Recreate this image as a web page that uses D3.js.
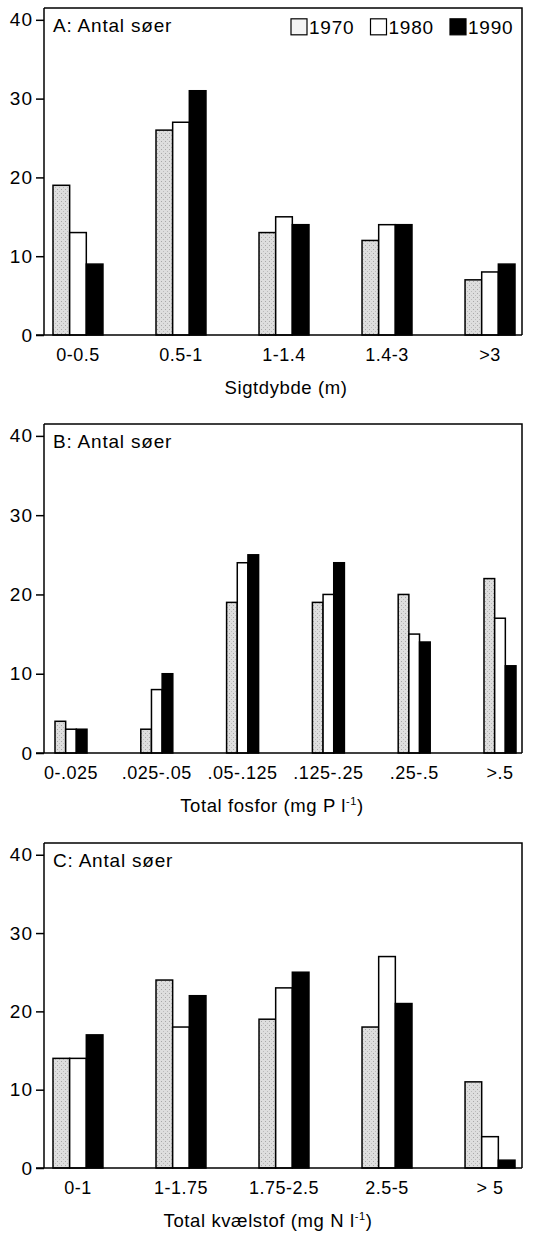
<!DOCTYPE HTML>
<html>
<head>
  <title>Antal søer</title>
  <script src="https://d3js.org/d3.v7.min.js"></script>
  <style>
    body { margin: 0; background: #fff; }
    svg text { font-family: "Liberation Sans", Arial, sans-serif; fill: #000; }
  </style>
</head>
<body>
  <script>
    var years = ["1970", "1980", "1990"];

    var catsA = ["0-0.5", "0.5-1", "1-1.4", "1.4-3", ">3"];
    var a1970 = [19, 26, 13, 12, 7];
    var a1980 = [13, 27, 15, 14, 8];
    var a1990 = [9, 31, 14, 14, 9];

    var catsB = ["0-.025", ".025-.05", ".05-.125", ".125-.25", ".25-.5", ">.5"];
    var b1970 = [4, 3, 19, 19, 20, 22];
    var b1980 = [3, 8, 24, 20, 15, 17];
    var b1990 = [3, 10, 25, 24, 14, 11];

    var catsC = ["0-1", "1-1.75", "1.75-2.5", "2.5-5", "> 5"];
    var c1970 = [14, 24, 19, 18, 11];
    var c1980 = [14, 18, 23, 27, 4];
    var c1990 = [17, 22, 25, 21, 1];

    var yTicks = [0, 10, 20, 30, 40];

    var fills = { "1970": "url(#stipple)", "1980": "#fff", "1990": "#000" };

    var width = 540, height = 1234;
    var left = 44, right = 522;

    var svg = d3.select("body").append("svg")
      .attr("width", width)
      .attr("height", height);

    // stippled grey for 1970
    var pat = svg.append("defs").append("pattern")
      .attr("id", "stipple")
      .attr("patternUnits", "userSpaceOnUse")
      .attr("width", 4).attr("height", 4);
    pat.append("rect").attr("width", 4).attr("height", 4).attr("fill", "#dedede");
    pat.append("rect").attr("x", 1).attr("y", 1).attr("width", 1).attr("height", 1).attr("fill", "#a8a8a8");
    pat.append("rect").attr("x", 3).attr("y", 3).attr("width", 1).attr("height", 1).attr("fill", "#bcbcbc");

    var panels = [
      { title: "A: Antal søer", cats: catsA, vals: [a1970, a1980, a1990], y0: 335, top: 8,
        x0: 53, x1: 515, pad: 0.515, xlab: "Sigtdybde (m)", sup: null, xc: 286, legend: true },
      { title: "B: Antal søer", cats: catsB, vals: [b1970, b1980, b1990], y0: 753, top: 424,
        x0: 55, x1: 516, pad: 0.627, xlab: "Total fosfor (mg P l", sup: "-1", xc: 272, legend: false },
      { title: "C: Antal søer", cats: catsC, vals: [c1970, c1980, c1990], y0: 1168, top: 843,
        x0: 53, x1: 515, pad: 0.515, xlab: "Total kvælstof (mg N l", sup: "-1", xc: 268, legend: false }
    ];

    panels.forEach(function(p) {
      var y = d3.scaleLinear().domain([0, 41.5]).range([p.y0, p.top]);
      var x = d3.scaleBand().domain(p.cats).range([p.x0, p.x1])
        .paddingInner(p.pad).paddingOuter(0);
      var xs = d3.scaleBand().domain(years).range([0, x.bandwidth()]);

      var g = svg.append("g");

      // frame: top and right
      g.append("path")
        .attr("d", "M" + left + "," + y(41.5) + "H" + right + "V" + y(0))
        .attr("fill", "none").attr("stroke", "#000").attr("stroke-width", 1.5);

      // bars
      years.forEach(function(yr, k) {
        g.selectAll(".bar" + yr)
          .data(p.cats.map(function(c, i) { return { c: c, v: p.vals[k][i] }; }))
          .enter().append("rect")
          .attr("x", function(d) { return x(d.c) + xs(yr); })
          .attr("y", function(d) { return y(d.v); })
          .attr("width", xs.bandwidth())
          .attr("height", function(d) { return y(0) - y(d.v); })
          .attr("fill", fills[yr])
          .attr("stroke", "#000")
          .attr("stroke-width", 1.5);
      });

      // y axis
      var ya = g.append("g")
        .attr("transform", "translate(" + left + ",0)")
        .call(d3.axisLeft(y).tickValues(yTicks).tickSize(8).tickPadding(3));
      ya.select(".domain").attr("d", "M0," + y(41.5) + "V" + y(0)).attr("stroke-width", 1.5);
      ya.selectAll(".tick line").attr("stroke-width", 1.5);
      ya.selectAll(".tick text").style("font-size", "19px").style("letter-spacing", "1px");

      // baseline
      g.append("line")
        .attr("x1", left - 8).attr("x2", right)
        .attr("y1", y(0)).attr("y2", y(0))
        .attr("stroke", "#000").attr("stroke-width", 1.5);

      // x axis labels
      var xa = g.append("g")
        .attr("transform", "translate(0," + y(0) + ")")
        .call(d3.axisBottom(x).tickSize(0).tickPadding(13));
      xa.select(".domain").remove();
      xa.selectAll(".tick text").style("font-size", "18px").style("letter-spacing", "0.5px");

      // axis title
      var t = g.append("text")
        .attr("x", p.xc)
        .attr("y", y(0) + 59)
        .attr("text-anchor", "middle")
        .style("font-size", "18.5px")
        .style("letter-spacing", "0.6px")
        .text(p.xlab);
      if (p.sup) {
        t.append("tspan").attr("dy", -7).style("font-size", "11px").text(p.sup);
        t.append("tspan").attr("dy", 7).text(")");
      }

      // panel title
      g.append("text")
        .attr("x", left + 9)
        .attr("y", y(40) + 12)
        .style("font-size", "19px")
        .style("letter-spacing", "0.8px")
        .text(p.title);

      if (p.legend) {
        var lx = d3.scalePoint().domain(years).range([291, 450]);
        var lg = g.selectAll(".leg").data(years).enter().append("g")
          .attr("transform", function(d) { return "translate(" + lx(d) + "," + (y(40) - 1) + ")"; });
        lg.append("rect")
          .attr("width", 16).attr("height", 16)
          .attr("fill", function(d) { return d === "1970" ? "#f4f4f4" : fills[d]; })
          .attr("stroke", "#000").attr("stroke-width", 1.2);
        lg.append("text")
          .attr("x", 18).attr("y", 15)
          .style("font-size", "19px")
          .style("letter-spacing", "0.8px")
          .text(function(d) { return d; });
      }
    });
  </script>
</body>
</html>
